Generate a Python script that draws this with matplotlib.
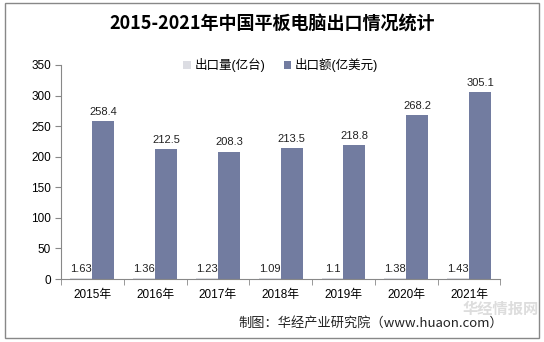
import numpy as np
import matplotlib.pyplot as plt
from matplotlib.patches import Rectangle

plt.rcParams['font.family'] = ['Liberation Sans', 'Noto Sans CJK SC', 'DejaVu Sans']

years = ['2015年', '2016年', '2017年', '2018年', '2019年', '2020年', '2021年']
volume = [1.63, 1.36, 1.23, 1.09, 1.1, 1.38, 1.43]
value = [258.4, 212.5, 208.3, 213.5, 218.8, 268.2, 305.1]

light = '#DCDDE3'
dark = '#727CA0'

fig = plt.figure(figsize=(5.44, 3.42), dpi=100)
ax = fig.add_axes([0.112, 0.184, 0.808, 0.626])

x = np.arange(len(years))
w = 0.35
ax.bar(x - w / 2, volume, w, color=light, label='出口量(亿台)')
ax.bar(x + w / 2, value, w, color=dark, label='出口额(亿美元)')

for xi, v in zip(x, volume):
    ax.text(xi - w / 2, v + 7, f'{v:g}', ha='center', va='bottom', fontsize=8, color='#222222')
for xi, v in zip(x, value):
    ax.text(xi + w / 2, v + 7, f'{v:g}', ha='center', va='bottom', fontsize=8, color='#222222')

ax.set_xlim(-0.5, len(years) - 0.5)
ax.set_ylim(0, 350)
ax.set_yticks(range(0, 351, 50))
ax.set_xticks(x)
ax.set_xticklabels(years)
ax.set_xticks(np.arange(-0.5, len(years), 1), minor=True)
ax.tick_params(axis='x', which='major', length=0, pad=7, labelsize=8.5)
ax.tick_params(axis='x', which='minor', length=4, color='#888888')
ax.tick_params(axis='y', length=4, color='#888888', labelsize=8.5, pad=3)
for s in ['top', 'right']:
    ax.spines[s].set_visible(False)
ax.spines['left'].set_color('#888888')
ax.spines['bottom'].set_color('#888888')

ax.legend(loc='center', bbox_to_anchor=(0.5, 1.0), ncol=2, frameon=False,
          fontsize=9, handlelength=0.6, handleheight=0.6, columnspacing=1.5, handletextpad=0.3)

fig.text(0.5, 0.93, '2015-2021年中国平板电脑出口情况统计', ha='center', va='center',
         fontsize=13, fontweight='bold', family=['Noto Sans CJK SC'])

# watermark and source
fig.text(0.99, 0.098, '华经情报网', fontsize=11, color='#DDDDDD', ha='right', va='center',
         family=['Noto Sans CJK SC'], fontweight='bold')
fig.text(0.925, 0.055, '制图：华经产业研究院（www.huaon.com）', ha='right', va='center',
         fontsize=9.5, family=['Noto Sans CJK SC'], color='#222222')

fig.patches.append(Rectangle((0.009, 0.012), 0.981, 0.978, transform=fig.transFigure,
                             fill=False, edgecolor='#888888', linewidth=1))

fig.savefig('out.png', dpi=100)
